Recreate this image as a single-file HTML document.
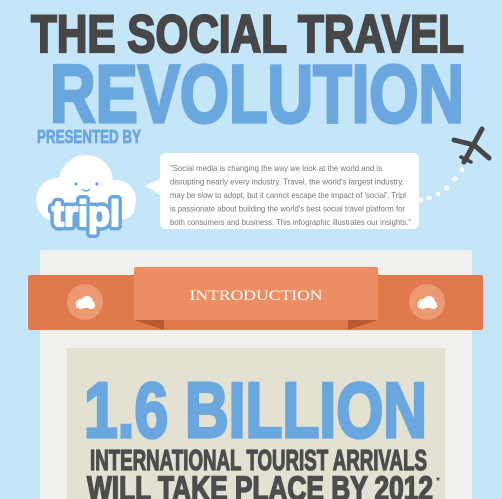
<!DOCTYPE html>
<html><head><meta charset="utf-8">
<style>
html,body{margin:0;padding:0;width:502px;height:499px;overflow:hidden;background:#c5e5f9;}
svg{display:block}
</style></head>
<body>
<svg width="502" height="499" viewBox="0 0 502 499" font-family="Liberation Sans, sans-serif">
<rect width="502" height="499" fill="#c5e5f9"/>
<text x="31" y="52" font-size="53" font-weight="bold" fill="#474747" stroke="#474747" stroke-width="2.2" stroke-linejoin="miter" textLength="433" lengthAdjust="spacingAndGlyphs">THE SOCIAL TRAVEL</text>
<text x="50" y="122" font-size="82" font-weight="bold" fill="#6aa7de" stroke="#6aa7de" stroke-width="3.2" stroke-linejoin="miter" textLength="414" lengthAdjust="spacingAndGlyphs">REVOLUTION</text>
<text x="37" y="143" font-size="18" font-weight="bold" fill="#6aa7de" stroke="#6aa7de" stroke-width="0.8" textLength="104" lengthAdjust="spacingAndGlyphs">PRESENTED BY</text>
<g>
<circle cx="86" cy="182" r="27" fill="#fff"/>
<circle cx="58" cy="200" r="22" fill="#fff"/>
<circle cx="116" cy="200" r="20" fill="#fff"/>
<rect x="40" y="190" width="95" height="30" rx="14" fill="#fff"/>
<circle cx="76" cy="184" r="1.6" fill="#6aa7de"/><circle cx="97" cy="184" r="1.6" fill="#6aa7de"/>
<path d="M82 189 q4 4 8 0" stroke="#6aa7de" stroke-width="1.4" fill="none"/>
<text x="86" y="226" font-size="36" font-weight="bold" text-anchor="middle" fill="#fff" stroke="#6aa7de" stroke-width="9" stroke-linejoin="round" paint-order="stroke" textLength="68" lengthAdjust="spacingAndGlyphs">tripl</text>
<text x="86" y="226" font-size="36" font-weight="bold" text-anchor="middle" fill="#fff" stroke="#fff" stroke-width="2" stroke-linejoin="round" textLength="68" lengthAdjust="spacingAndGlyphs">tripl</text>
</g>
<g>
<rect x="160" y="153" width="259" height="76" rx="6" fill="#fff"/>
<path d="M162 178 L145 186 L162 196 Z" fill="#fff"/>
<g font-size="8.3" fill="#777">
<text x="170" y="171" textLength="212" lengthAdjust="spacingAndGlyphs">"Social media is changing the way we look at the world and is</text>
<text x="170" y="184.5" textLength="234" lengthAdjust="spacingAndGlyphs">disrupting nearly every industry. Travel, the world's largest industry,</text>
<text x="170" y="198" textLength="236" lengthAdjust="spacingAndGlyphs">may be slow to adopt, but it cannot escape the impact of 'social'. Tripl</text>
<text x="170" y="211.5" textLength="235" lengthAdjust="spacingAndGlyphs">is passionate about building the world's best social travel platform for</text>
<text x="170" y="225" textLength="241" lengthAdjust="spacingAndGlyphs">both consumers and business. This infographic illustrates our insights."</text>
</g></g>
<g stroke="#474747" stroke-linecap="round" stroke-linejoin="round" fill="none">
<line x1="464" y1="162" x2="482" y2="129" stroke-width="5"/>
<path d="M454 140 L474 145 L489 158" stroke-width="5"/>
<line x1="461" y1="157" x2="471" y2="162" stroke-width="3.5"/>
</g>
<g fill="#fff">
<circle cx="462" cy="170" r="2.5"/><circle cx="455" cy="179" r="2.5"/><circle cx="447" cy="188" r="2.5"/><circle cx="438" cy="194" r="2.5"/><circle cx="429" cy="198" r="2.5"/><circle cx="421" cy="200" r="2.5"/>
</g>
<rect x="40" y="250" width="432" height="260" rx="2" fill="#f1f0ea"/>
<g>
<rect x="28" y="275" width="455" height="55" rx="2" fill="#e07a4c"/>
<path d="M134 320 L164 330 L164 320 Z" fill="#b85a33"/>
<path d="M378 320 L348 330 L348 320 Z" fill="#b85a33"/>
<rect x="134" y="267" width="244" height="53" rx="2" fill="#ec8d63"/>
<circle cx="85" cy="302" r="18" fill="#eb9a74"/>
<circle cx="427" cy="302" r="18" fill="#eb9a74"/>
<g fill="#fff"><circle cx="81" cy="304" r="5"/><circle cx="87" cy="302" r="6"/><circle cx="91" cy="305" r="4"/><rect x="76" y="304" width="19" height="4" rx="2"/>
<circle cx="423" cy="304" r="5"/><circle cx="429" cy="302" r="6"/><circle cx="433" cy="305" r="4"/><rect x="418" y="304" width="19" height="4" rx="2"/></g>
<text x="256" y="300" font-family="Liberation Serif, serif" font-size="15" fill="#fff" text-anchor="middle" textLength="133" lengthAdjust="spacingAndGlyphs">INTRODUCTION</text>
</g>
<rect x="67" y="348" width="378" height="160" rx="2" fill="#e3e1d2"/>
<text x="84" y="437" font-size="78" font-weight="bold" fill="#6aa7de" stroke="#6aa7de" stroke-width="3.2" stroke-linejoin="miter" textLength="343" lengthAdjust="spacingAndGlyphs">1.6 BILLION</text>
<text x="90" y="470" font-size="29" font-weight="bold" fill="#4d4d4d" stroke="#4d4d4d" stroke-width="1.3" stroke-linejoin="miter" textLength="337" lengthAdjust="spacingAndGlyphs">INTERNATIONAL TOURIST ARRIVALS</text>
<text x="87" y="500" font-size="34" font-weight="bold" fill="#4d4d4d" stroke="#4d4d4d" stroke-width="1.6" stroke-linejoin="miter" textLength="346" lengthAdjust="spacingAndGlyphs">WILL TAKE PLACE BY 2012</text>
<text x="436" y="484" font-size="10" font-weight="bold" fill="#4d4d4d">*</text>
</svg>
</body></html>
